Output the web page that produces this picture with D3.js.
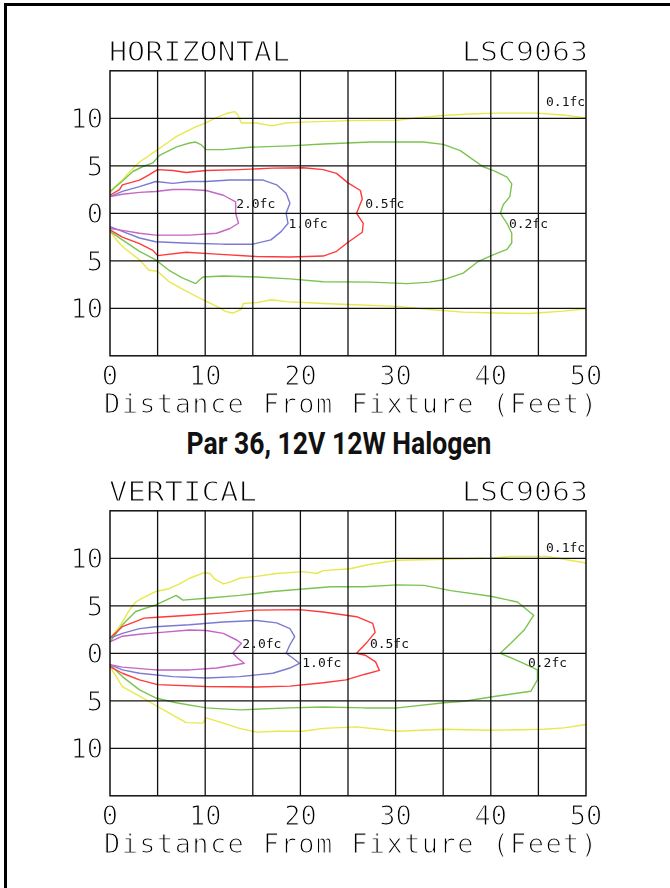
<!DOCTYPE html>
<html><head><meta charset="utf-8">
<script src="https://cdn.jsdelivr.net/npm/d3@7/dist/d3.min.js"></script>
<style>body{margin:0;background:#fff}svg{display:block}</style>
</head><body>
<script>
// ---------- data ----------
const xTicks = [0, 10, 20, 30, 40, 50];
const yTicks = [10, 5, 0, -5, -10];
const gridX = [5, 10, 15, 20, 25, 30, 35, 40, 45];
const gridY = [10, 5, 0, -5, -10];
const levels = ["0.1fc", "0.2fc", "0.5fc", "1.0fc", "2.0fc"];

// HORIZONTAL chart contours [feet from fixture, feet off axis]
const hYellowUpper = [[0,2.1],[0.6,2.9],[1.3,3.5],[2.2,4.5],[3.1,5.4],[4,6],[5,6.7],[6,7.4],[7,8.1],[8,8.6],[9,9.1],[10,9.5],[11,10],[12.2,10.5],[13.1,10.7],[13.4,10.4],[13.8,9.5],[15.4,9.5],[17,9.2],[18.5,9.5],[20.3,9.6],[25,9.75],[30.2,9.8],[32.6,10.1],[35,10.3],[37.8,10.45],[40.3,10.55],[44.8,10.55],[47.6,10.35],[50,10.05]];
const hYellowLower = [[0,-1.9],[0.6,-2.7],[1.3,-3.5],[2.2,-4.2],[3.1,-4.9],[4.1,-6],[5,-6.1],[6.2,-7.2],[8,-8.2],[9.75,-9.1],[11.2,-9.8],[12.2,-10.35],[12.9,-10.5],[13.8,-10.1],[14,-9.5],[15.4,-9.4],[17,-9.1],[18.5,-9.3],[22.4,-9.5],[25,-9.6],[30.2,-9.8],[33.3,-10.1],[37.1,-10.4],[40.6,-10.5],[44.1,-10.55],[47.6,-10.3],[50,-10.05]];
const hGreen = [[0,2.3],[1.2,3.3],[2.4,4.4],[3.4,4.9],[4.5,5.3],[5.2,6.1],[7,7],[8.35,7.4],[9,7.5],[9.6,7.2],[10.1,6.7],[11.9,6.7],[14.7,6.95],[18.9,7.1],[22.4,7.3],[27.4,7.5],[32.9,7.5],[35,7.25],[36.8,6.6],[38.2,5.6],[39.2,4.9],[40.3,4.5],[41.7,3.8],[42.2,3.1],[42,1.75],[41.3,0.9],[41,0],[41.7,-1.05],[42.2,-2.1],[42.2,-3.1],[41.7,-3.8],[40.3,-4.35],[38.7,-5.05],[37.1,-6.3],[35,-7],[33.6,-7.25],[31.2,-7.4],[27.4,-7.25],[22.4,-7.2],[18.9,-6.9],[15.4,-6.7],[11.9,-6.6],[9.75,-6.7],[9,-7.4],[7.6,-6.8],[6.2,-6],[4.8,-4.9],[3.1,-4],[1.3,-2.8],[0,-1.9]];
const hRed = [[0,1.9],[1,2.5],[1.3,3],[3.1,3.5],[4,4],[5,4.6],[6.6,4.5],[8,4.3],[10.1,4.5],[13.6,4.6],[17.1,4.75],[20.3,4.8],[22.4,4.6],[23.8,4.2],[25,3.2],[26.3,2.4],[26.5,1.5],[25.9,0],[26.6,-1.05],[26.5,-2],[25,-3.05],[23.8,-4],[22.4,-4.5],[18.9,-4.6],[15.4,-4.55],[11.2,-4.3],[8,-4.1],[5,-4.45],[4.5,-3.9],[3.1,-3.2],[1.3,-2.5],[0,-1.75]];
const hBlue = [[0,1.75],[1.3,2.3],[3.1,2.8],[4.8,3.35],[6.6,3.15],[8.35,3.35],[10.1,3.35],[12.6,3.5],[16.1,3.5],[17.5,3],[18.5,2.1],[18.9,1.05],[18.5,0],[18.7,-1.05],[18,-1.9],[16.9,-2.8],[15,-3.25],[11.9,-3.25],[8.35,-3.15],[4.8,-3],[3.1,-2.6],[1.3,-1.9],[0,-1.4]];
const hMagenta = [[0,1.75],[1.3,2],[3.1,2.2],[4.8,2.3],[6.6,2.5],[8.35,2.5],[10.1,2.4],[11.9,1.9],[13.2,1.2],[13.2,0],[13.5,-1.05],[12.6,-1.6],[11.2,-2.1],[8.35,-2.3],[4.8,-2.3],[3.1,-2.1],[1.3,-1.8],[0,-1.6]];
const hLabelX = [45.8, 41.9, 26.8, 18.75, 13.25];
const hLabelY = [11.3, -1.55, 0.55, -1.55, 0.55];

// VERTICAL chart contours
const vYellowUpper = [[0,1.6],[1,2.8],[2,4.5],[2.7,5.4],[3.4,5.8],[4.8,6.5],[6.2,6.8],[7.3,7.3],[8.35,7.9],[9.9,8.5],[10.5,8.4],[11,7.8],[11.9,7.3],[12.6,7.5],[13.6,7.9],[15.4,8.1],[17.5,8.4],[20.3,8.6],[21.7,8.4],[22.4,8.7],[25.2,8.9],[27.2,9.35],[30.2,9.8],[35.1,9.9],[40,10],[42.1,10.2],[45.9,10.2],[47.7,9.9],[50,9.5]];
const vYellowLower = [[0,-1.4],[1.3,-3.5],[3.1,-4.5],[5,-5.6],[6.6,-6.5],[8,-7.3],[9.75,-7.35],[10.1,-6.8],[11.9,-7.35],[13.6,-7.9],[15.4,-8.3],[17.5,-8.2],[20.3,-8.2],[22.4,-7.9],[25.9,-7.75],[30.2,-8.2],[35.1,-8],[40,-8.1],[45.6,-8],[47.7,-7.85],[50,-7.5]];
const vGreen = [[0,1.2],[1.3,3],[2.7,4.4],[4.8,5.1],[5.9,5.6],[6.95,6.1],[7.65,5.6],[10.1,5.8],[13.6,6.1],[17.1,6.5],[20.6,6.8],[23.2,7],[26.7,7],[30.2,7.2],[33,7.15],[35.8,6.6],[40,6],[42.8,5.4],[44.5,4],[43.5,2.45],[42.1,1.05],[41,0],[43.1,-0.9],[44.9,-1.75],[44.9,-2.8],[44.2,-4],[40.7,-4.5],[37.2,-5.05],[35.1,-5.2],[30.2,-5.75],[26.7,-5.75],[22.4,-5.65],[18.9,-5.75],[13.6,-5.95],[10.1,-5.75],[6.95,-5.2],[4.8,-4.7],[3.1,-3.85],[1.3,-2.45],[0,-1.2]];
const vRed = [[0,1.6],[1.3,2.8],[3.6,3.7],[5,3.8],[8.35,4],[11.9,4.25],[15.4,4.55],[19.9,4.6],[22.4,4.35],[25.9,3.85],[27.6,3.15],[27.85,2.2],[26.9,1.05],[25.9,0],[26.8,-0.2],[27.9,-0.9],[28.3,-1.8],[26.8,-2.2],[24.8,-2.8],[22.4,-3.1],[18.9,-3.45],[15.4,-3.55],[10.1,-3.5],[5,-3.3],[3.1,-2.8],[1.3,-2.1],[0,-1.4]];
const vBlue = [[0,1.6],[1.3,2.1],[3.1,2.6],[4.8,2.8],[8.35,3],[11.9,3.3],[15.4,3.45],[17.5,3.2],[18.9,2.6],[19.4,1.75],[18.9,0.9],[18.5,0],[19.2,-0.5],[19.9,-1.05],[18.9,-1.55],[17.1,-2.1],[13.6,-2.45],[10.1,-2.6],[6.6,-2.45],[3.1,-2.1],[1.3,-1.75],[0,-1.2]];
const vMagenta = [[0,1.2],[1.3,1.8],[3.1,2],[4.8,2.15],[8.35,2.45],[10.1,2.4],[11.9,2.1],[13.3,1.4],[13.8,1.05],[12.9,0],[13.4,-0.5],[14.1,-1.05],[13.3,-1.2],[11.2,-1.55],[8.35,-1.75],[4.8,-1.75],[1.3,-1.45],[0,-1.2]];
const vLabelX = [45.8, 43.9, 27.3, 20.2, 13.9];
const vLabelY = [10.65, -1.45, 0.55, -1.45, 0.55];

const xLabel = "Distance From Fixture (Feet)";
const caption = "Par 36, 12V 12W Halogen";

// ---------- drawing ----------
const W = 670, H = 888;
const COL = {yellow:"#e8e84c", green:"#7cc452", red:"#ff3a3a", blue:"#7a7ad2", magenta:"#c466c4"};
const MONO = "'DejaVu Sans Mono', 'Liberation Mono', monospace";

const svg = d3.select("body").append("svg").attr("width", W).attr("height", H);
// a neutral filter: renders text off-screen in grayscale
const f = svg.append("defs").append("filter").attr("id", "gray")
  .attr("x", "-5%").attr("y", "-20%").attr("width", "110%").attr("height", "140%");
f.append("feColorMatrix").attr("type", "saturate").attr("values", 0);

// outer frame (left and top edges visible)
svg.append("rect").attr("x", 5.5).attr("y", 4.5).attr("width", 700).attr("height", 950)
  .attr("fill", "none").attr("stroke", "#000").attr("stroke-width", 3);

const x = d3.scaleLinear().domain([0, 50]).range([110, 586]);

// thin "plotter" look: white outline eats into the glyph edges
function thin(sel) {
  return sel.attr("font-family", MONO).attr("font-size", 27).attr("fill", "#000")
    .attr("stroke", "#fff").attr("stroke-width", 1.1).attr("paint-order", "fill stroke");
}

function chart(zeroY, title, series, labelX, labelY) {
  const y = d3.scaleLinear().domain([-15, 15]).range([zeroY + 142.5, zeroY - 142.5]);
  const g = svg.append("g");
  const t = svg.append("g").attr("filter", "url(#gray)");
  const top = y(15), bot = y(-15);

  // titles
  thin(t.append("text").attr("x", 109).attr("y", top - 10).text(title))
    .attr("textLength", title === "HORIZONTAL" ? 181 : 148).attr("lengthAdjust", "spacingAndGlyphs");
  thin(t.append("text").attr("x", 588).attr("y", top - 10).attr("text-anchor", "end").text("LSC9063"))
    .attr("textLength", 126).attr("lengthAdjust", "spacingAndGlyphs");

  // contours
  const line = d3.line().x(d => x(d[0])).y(d => y(d[1]));
  series.forEach(s => {
    g.append("path").attr("d", line(s.pts)).attr("fill", "none")
      .attr("stroke", s.color).attr("stroke-width", 1.4).attr("stroke-linejoin", "round");
  });

  // grid
  g.selectAll(".gx").data(gridX).join("line")
    .attr("x1", d => x(d)).attr("x2", d => x(d)).attr("y1", top).attr("y2", bot)
    .attr("stroke", "#111").attr("stroke-width", 1.3);
  g.selectAll(".gy").data(gridY).join("line")
    .attr("x1", x(0)).attr("x2", x(50)).attr("y1", d => y(d)).attr("y2", d => y(d))
    .attr("stroke", "#111").attr("stroke-width", 1.3);
  g.append("rect").attr("x", x(0)).attr("y", top).attr("width", x(50) - x(0)).attr("height", bot - top)
    .attr("fill", "none").attr("stroke", "#111").attr("stroke-width", 1.5);

  // contour labels
  g.append("g").attr("filter", "url(#gray)").selectAll("text").data(levels).join("text")
    .attr("x", (d, i) => x(labelX[i])).attr("y", (d, i) => y(labelY[i]))
    .text(d => d).attr("font-family", MONO).attr("font-size", 13).attr("fill", "#111");

  // y tick labels
  thin(t.selectAll(".yt").data(yTicks).join("text")
    .attr("x", 103).attr("y", d => y(d)).attr("dy", "0.36em").attr("text-anchor", "end")
    .text(d => Math.abs(d)));

  // x tick labels
  thin(t.selectAll(".xt").data(xTicks).join("text")
    .attr("x", d => x(d)).attr("y", bot + 29).attr("text-anchor", "middle")
    .text(d => d));

  thin(t.append("text").attr("x", 104).attr("y", bot + 57).text(xLabel))
    .attr("textLength", 493).attr("lengthAdjust", "spacing");
}

chart(213.3, "HORIZONTAL", [
  {pts: hYellowUpper, color: COL.yellow}, {pts: hYellowLower, color: COL.yellow},
  {pts: hGreen, color: COL.green}, {pts: hRed, color: COL.red},
  {pts: hBlue, color: COL.blue}, {pts: hMagenta, color: COL.magenta}
], hLabelX, hLabelY);

chart(653.3, "VERTICAL", [
  {pts: vYellowUpper, color: COL.yellow}, {pts: vYellowLower, color: COL.yellow},
  {pts: vGreen, color: COL.green}, {pts: vRed, color: COL.red},
  {pts: vBlue, color: COL.blue}, {pts: vMagenta, color: COL.magenta}
], vLabelX, vLabelY);

svg.append("text").attr("x", 339).attr("y", 453.5).attr("text-anchor", "middle").text(caption)
  .attr("font-family", "Roboto, 'Liberation Sans', sans-serif").attr("font-weight", "bold")
  .attr("font-size", 30.5).attr("fill", "#111")
  .attr("textLength", 305).attr("lengthAdjust", "spacingAndGlyphs");
</script>
</body></html>
